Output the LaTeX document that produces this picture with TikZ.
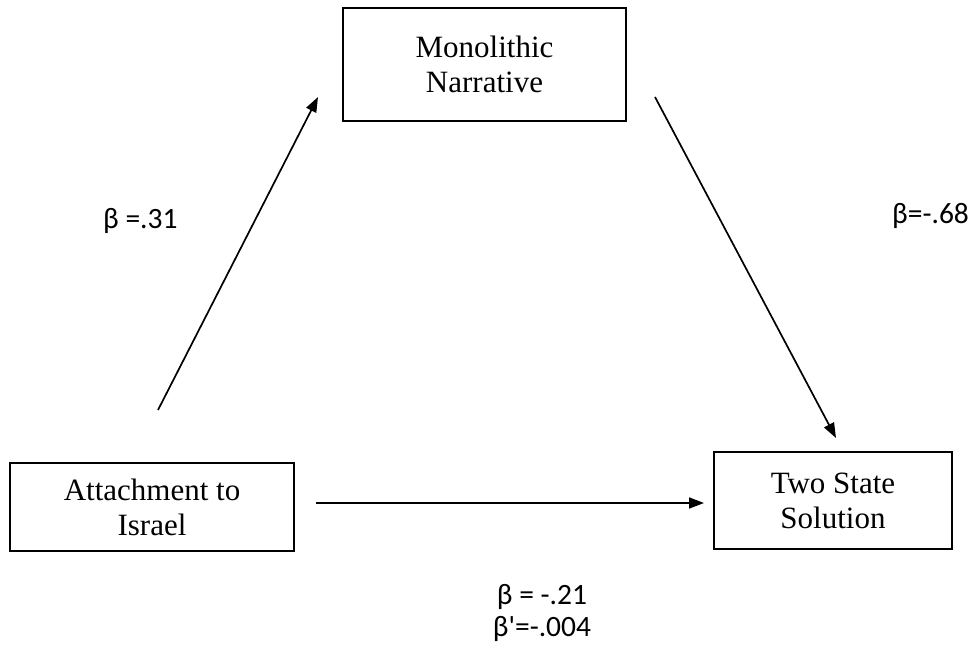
\documentclass[tikz,border=0pt]{standalone}
\usepackage{fontspec}
\setmainfont{Liberation Serif}
\newfontfamily\coeffont{Carlito}
\usetikzlibrary{arrows.meta, positioning}
\tikzset{
	varbox/.style   ={rectangle, draw=black, line width=1.8pt, align=center, inner sep=0pt, font=\fontsize{31}{35}\selectfont},
	patharrow/.style={-{Triangle[length=15pt,width=11pt]}, line width=1.7pt},
	coef/.style     ={inner sep=0pt, align=center, font=\coeffont\fontsize{29.5}{32}\selectfont},
}
\begin{document}
\begin{tikzpicture}[x=1pt, y=-1pt]
	\useasboundingbox (0,0) rectangle (976,655);
	\node[varbox, minimum width=283pt, minimum height=113pt] (mono) at (484.5,64.5) {Monolithic\\Narrative};
	\node[varbox, minimum width=284pt, minimum height=88pt] (attach) at (152,507) {Attachment to\\Israel};
	\node[varbox, minimum width=238pt, minimum height=97pt] (twostate) at (833,500.5) {Two State\\Solution};
	% arrow ends
	\coordinate (a1) at (158,410); \coordinate (a2) at (318,97);
	\coordinate (b1) at (655,97);  \coordinate (b2) at (836,438);
	\coordinate (c1) at (316,503); \coordinate (c2) at (704,503);
	\draw[patharrow] (a1) -- (a2);
	\draw[patharrow] (b1) -- (b2);
	\draw[patharrow] (c1) -- (c2);
	\node[coef, anchor=base west] (ca) at (103,228) {β =.31};
	\node[coef, anchor=base west] (cb) at (892,223) {β=-.68};
	\node[coef] (cc) at (542,613) {β = -.21\\β\textquotesingle=-.004};
\end{tikzpicture}
\end{document}
